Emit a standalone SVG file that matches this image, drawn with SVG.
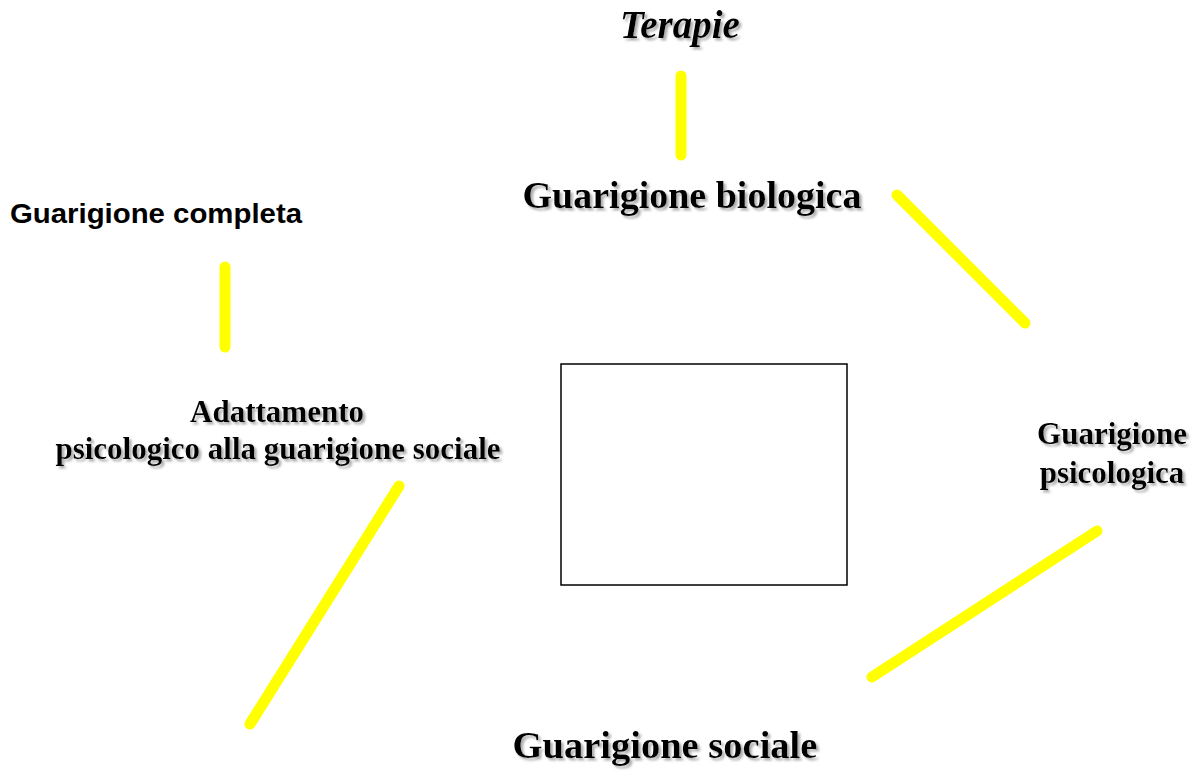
<svg xmlns="http://www.w3.org/2000/svg" width="1194" height="771" viewBox="0 0 1194 771">
<defs>
<filter id="sh" x="-10%" y="-30%" width="120%" height="160%">
<feDropShadow dx="2.5" dy="2.5" stdDeviation="0.8" flood-color="#999" flood-opacity="0.8"/>
</filter>
<style>
.t{font-family:"Liberation Serif","Times New Roman",serif;font-weight:bold;fill:#000;filter:url(#sh);text-anchor:middle}
.a{font-family:"Liberation Sans",Arial,sans-serif;font-weight:bold;fill:#000}
.c line{stroke:#ffff00;stroke-width:11;stroke-linecap:round}
</style>
</defs>
<rect width="1194" height="771" fill="#fff"/>
<g class="c" id="connectors">
<line x1="681" y1="76" x2="681" y2="155"/>
<line x1="897" y1="195" x2="1025" y2="323"/>
<line x1="225" y1="267" x2="225" y2="347"/>
<line x1="1097" y1="531" x2="872" y2="677"/>
<line x1="399" y1="486" x2="250" y2="724"/>
</g>
<g id="center"><rect x="561" y="364" width="286" height="221" fill="#fff" stroke="#000" stroke-width="1.5"/></g>
<g id="terapie"><text class="t" x="680" y="38" font-size="39" font-style="italic">Terapie</text></g>
<g id="biologica"><text class="t" x="692" y="208" font-size="38">Guarigione biologica</text></g>
<g id="completa"><text class="a" x="10" y="223" font-size="28.5" textLength="292" lengthAdjust="spacingAndGlyphs">Guarigione completa</text></g>
<g id="adattamento"><text class="t" x="277" y="422" font-size="31">Adattamento</text><text class="t" x="278" y="459" font-size="31">psicologico alla guarigione sociale</text></g>
<g id="psicologica"><text class="t" x="1112" y="444" font-size="31">Guarigione</text><text class="t" x="1112" y="483" font-size="31">psicologica</text></g>
<g id="sociale"><text class="t" x="665" y="758" font-size="38.5">Guarigione sociale</text></g>
</svg>
